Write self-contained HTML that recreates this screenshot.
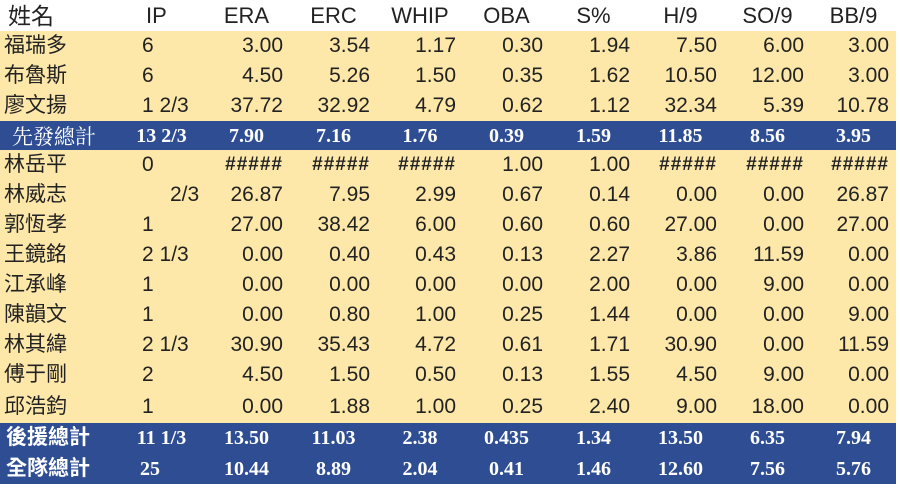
<!DOCTYPE html>
<html><head><meta charset="utf-8"><style>
html,body{margin:0;padding:0;background:#fff;width:900px;height:489px;overflow:hidden}
table{border-collapse:collapse;table-layout:fixed;width:896px;font-family:"Liberation Sans","Noto Sans CJK TC",sans-serif;font-size:21px;color:#222}
td{padding:0;white-space:nowrap;overflow:hidden;line-height:22px}
tr.h td{height:31px;text-align:center;font-size:22px;background:#fff}
tr.y td{background:#fde8a9;height:30px;text-align:right;padding-right:7px}
tr.y td.n{text-align:left;padding-left:4px;padding-right:0}
tr.y td.ip{text-align:left;padding-left:22px;padding-right:0}
tr.y td.x{font-weight:bold;font-size:19px;letter-spacing:1px}
tr.b td{background:#2e4d93;color:#fff;font-family:"Liberation Serif","Noto Serif CJK SC",serif;font-weight:bold;font-size:20px;text-align:center;height:29px}
tr.b td.n{text-align:left;padding-left:6px;font-family:"Liberation Sans","Noto Sans CJK TC",sans-serif;font-size:21px}
tr.b td.n1{font-family:"Noto Serif CJK SC",serif;font-weight:normal;padding-left:12px}
</style></head><body>
<table>
<colgroup><col style="width:120px"><col style="width:83px"><col style="width:87px"><col style="width:87px"><col style="width:86px"><col style="width:87px"><col style="width:87px"><col style="width:87px"><col style="width:87px"><col style="width:85px"></colgroup>
<tr class="h"><td style="text-align:left;padding-left:8px;font-size:23px">姓名</td><td style="text-align:left;padding-left:26px">IP</td><td>ERA</td><td>ERC</td><td>WHIP</td><td>OBA</td><td>S%</td><td>H/9</td><td>SO/9</td><td>BB/9</td></tr>
<tr class="y"><td class="n">福瑞多</td><td class="ip">6</td><td>3.00</td><td>3.54</td><td>1.17</td><td>0.30</td><td>1.94</td><td>7.50</td><td>6.00</td><td>3.00</td></tr>
<tr class="y"><td class="n">布魯斯</td><td class="ip">6</td><td>4.50</td><td>5.26</td><td>1.50</td><td>0.35</td><td>1.62</td><td>10.50</td><td>12.00</td><td>3.00</td></tr>
<tr class="y"><td class="n">廖文揚</td><td class="ip">1 2/3</td><td>37.72</td><td>32.92</td><td>4.79</td><td>0.62</td><td>1.12</td><td>32.34</td><td>5.39</td><td>10.78</td></tr>
<tr class="b"><td class="n n1">先發總計</td><td>13 2/3</td><td>7.90</td><td>7.16</td><td>1.76</td><td>0.39</td><td>1.59</td><td>11.85</td><td>8.56</td><td>3.95</td></tr>
<tr class="y"><td class="n">林岳平</td><td class="ip">0</td><td class="x">#####</td><td class="x">#####</td><td class="x">#####</td><td>1.00</td><td>1.00</td><td class="x">#####</td><td class="x">#####</td><td class="x">#####</td></tr>
<tr class="y"><td class="n">林威志</td><td class="ip"><span style="padding-left:28px">2/3</span></td><td>26.87</td><td>7.95</td><td>2.99</td><td>0.67</td><td>0.14</td><td>0.00</td><td>0.00</td><td>26.87</td></tr>
<tr class="y"><td class="n">郭恆孝</td><td class="ip">1</td><td>27.00</td><td>38.42</td><td>6.00</td><td>0.60</td><td>0.60</td><td>27.00</td><td>0.00</td><td>27.00</td></tr>
<tr class="y"><td class="n">王鏡銘</td><td class="ip">2 1/3</td><td>0.00</td><td>0.40</td><td>0.43</td><td>0.13</td><td>2.27</td><td>3.86</td><td>11.59</td><td>0.00</td></tr>
<tr class="y"><td class="n">江承峰</td><td class="ip">1</td><td>0.00</td><td>0.00</td><td>0.00</td><td>0.00</td><td>2.00</td><td>0.00</td><td>9.00</td><td>0.00</td></tr>
<tr class="y"><td class="n">陳韻文</td><td class="ip">1</td><td>0.00</td><td>0.80</td><td>1.00</td><td>0.25</td><td>1.44</td><td>0.00</td><td>0.00</td><td>9.00</td></tr>
<tr class="y"><td class="n">林其緯</td><td class="ip">2 1/3</td><td>30.90</td><td>35.43</td><td>4.72</td><td>0.61</td><td>1.71</td><td>30.90</td><td>0.00</td><td>11.59</td></tr>
<tr class="y"><td class="n">傅于剛</td><td class="ip">2</td><td>4.50</td><td>1.50</td><td>0.50</td><td>0.13</td><td>1.55</td><td>4.50</td><td>9.00</td><td>0.00</td></tr>
<tr class="y" style="height:33px"><td class="n" style="height:33px">邱浩鈞</td><td class="ip">1</td><td>0.00</td><td>1.88</td><td>1.00</td><td>0.25</td><td>2.40</td><td>9.00</td><td>18.00</td><td>0.00</td></tr>
<tr class="b"><td class="n" style="height:30px">後援總計</td><td>11 1/3</td><td>13.50</td><td>11.03</td><td>2.38</td><td>0.435</td><td>1.34</td><td>13.50</td><td>6.35</td><td>7.94</td></tr>
<tr class="b"><td class="n" style="height:31px">全隊總計</td><td style="text-align:left;padding-left:20px">25</td><td>10.44</td><td>8.89</td><td>2.04</td><td>0.41</td><td>1.46</td><td>12.60</td><td>7.56</td><td>5.76</td></tr>
</table>
</body></html>
